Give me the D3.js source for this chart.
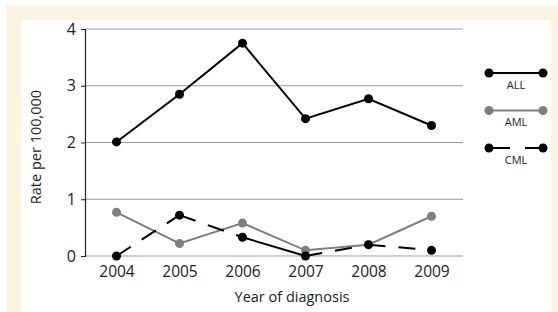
<!DOCTYPE html>
<html>
<head>
<meta charset="utf-8">
<script src="https://cdn.jsdelivr.net/npm/d3@7"></script>
<style>
  body { margin: 0; background: #fff; }
  text { font-family: "Open Sans", sans-serif; fill: #222; }
</style>
</head>
<body>
<div id="chart"></div>
<script>
const years = ["2004", "2005", "2006", "2007", "2008", "2009"]
const allRates = [2.01, 2.85, 3.75, 2.42, 2.77, 2.3]
const amlRates = [0.77, 0.22, 0.58, 0.1, 0.2, 0.7]
const cmlRates = [0, 0.72, 0.33, 0, 0.2, 0.1]
const yTicks = [0, 1, 2, 3, 4]
const seriesNames = ["ALL", "AML", "CML"]

const width = 558, height = 312
const margin = {top: 29, right: 95, bottom: 56, left: 85}
const w = width - margin.left - margin.right
const h = height - margin.top - margin.bottom

const svg = d3.select("#chart").append("svg")
    .attr("width", width)
    .attr("height", height)

// cream frame
svg.append("rect").attr("x", 6).attr("y", 5).attr("width", width - 6).attr("height", height - 5).attr("fill", "#fdf3e3")
svg.append("rect").attr("x", 21).attr("y", 20).attr("width", 530).attr("height", height - 20).attr("fill", "#fff")

const g = svg.append("g").attr("transform", `translate(${margin.left},${margin.top})`)

const x = d3.scalePoint().domain(years).range([0, w]).padding(0.5)
const y = d3.scaleLinear().domain([0, 4]).range([h, 0])

// gridlines
g.append("g").selectAll("line")
    .data(yTicks)
    .join("line")
    .attr("x1", 0).attr("x2", w)
    .attr("y1", d => y(d)).attr("y2", d => y(d))
    .attr("stroke", "#9a9a9a")
    .attr("stroke-width", 1.2)

const yAxis = g.append("g")
    .call(d3.axisLeft(y).tickValues(yTicks).tickFormat(d3.format("d")).tickSize(4).tickPadding(5))
yAxis.select(".domain").attr("stroke", "#222").attr("stroke-width", 1.2)
yAxis.selectAll(".tick line").attr("stroke", "#222")
yAxis.selectAll("text").attr("font-size", 16).attr("font-family", "Open Sans").attr("fill", "#222")

const xAxis = g.append("g")
    .attr("transform", `translate(0,${h})`)
    .call(d3.axisBottom(x).tickSize(0).tickPadding(10))
xAxis.select(".domain").remove()
xAxis.selectAll("text").attr("font-size", 15.5).attr("font-family", "Open Sans").attr("fill", "#222")

svg.append("text")
    .attr("x", 292).attr("y", 302)
    .attr("text-anchor", "middle")
    .attr("font-size", 14.5)
    .text("Year of diagnosis")

svg.append("text")
    .attr("transform", "translate(41,147) rotate(-90)")
    .attr("text-anchor", "middle")
    .attr("font-size", 14.5)
    .text("Rate per 100,000")

const line = d3.line().x((d, i) => x(years[i])).y(d => y(d))

const drawSeries = (vals, color) => {
    g.append("path")
        .datum(vals)
        .attr("d", line)
        .attr("fill", "none")
        .attr("stroke", color)
        .attr("stroke-width", 2)
    g.append("g").selectAll("circle")
        .data(vals)
        .join("circle")
        .attr("cx", (d, i) => x(years[i]))
        .attr("cy", d => y(d))
        .attr("r", 4.5)
        .attr("fill", color)
}

drawSeries(amlRates, "#7f7f7f")
drawSeries(allRates, "#000")

// CML drawn segment by segment so the dash restarts at every point
const cmlSegs = d3.pairs(cmlRates.map((d, i) => [x(years[i]), y(d)]))
g.append("g").selectAll("line")
    .data(cmlSegs)
    .join("line")
    .attr("x1", d => d[0][0]).attr("y1", d => d[0][1])
    .attr("x2", d => d[1][0]).attr("y2", d => d[1][1])
    .attr("stroke", "#000")
    .attr("stroke-width", 2)
    .attr("stroke-dasharray", (d, i) => i == 2 ? null : "17,13")
g.append("g").selectAll("circle")
    .data(cmlRates)
    .join("circle")
    .attr("cx", (d, i) => x(years[i]))
    .attr("cy", d => y(d))
    .attr("r", 4.5)
    .attr("fill", "#000")

// legend
const legendColors = ["#000", "#7f7f7f", "#000"]
const lg = svg.append("g").attr("transform", "translate(489,73)")
const item = lg.selectAll("g")
    .data(seriesNames)
    .join("g")
    .attr("transform", (d, i) => `translate(0,${i * 37.5})`)
item.append("line")
    .attr("x1", 0).attr("x2", 54)
    .attr("stroke", (d, i) => legendColors[i])
    .attr("stroke-width", 2)
    .attr("stroke-dasharray", (d, i) => i == 2 ? "21,15" : null)
item.selectAll("circle")
    .data((d, i) => [[0, i], [54, i]])
    .join("circle")
    .attr("cx", d => d[0])
    .attr("r", 4.5)
    .attr("fill", d => legendColors[d[1]])
item.append("text")
    .attr("x", 27).attr("y", 15.5)
    .attr("text-anchor", "middle")
    .attr("font-size", 11)
    .text(d => d)
</script>
</body>
</html>
